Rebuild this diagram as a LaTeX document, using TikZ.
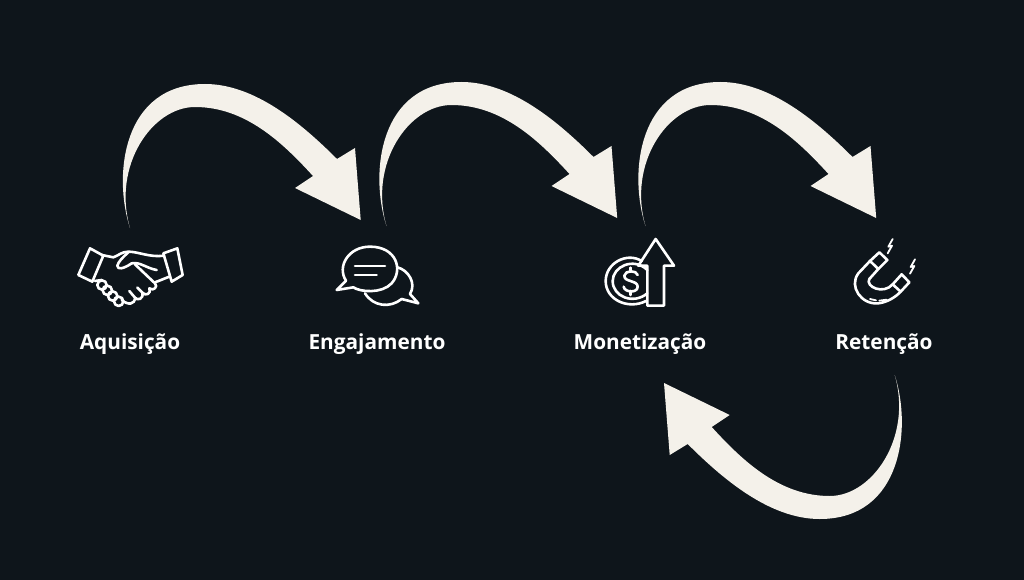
\documentclass[tikz,border=0pt]{standalone}
\usepackage{fontspec}
\setmainfont{Open Sans}
\definecolor{nightbg}{HTML}{0E151B}
\definecolor{cream}{HTML}{F4F1EA}
\tikzset{
	iconline/.style={draw=white, line width=2.6pt, line join=round, line cap=round},
	flowlabel/.style={text=white, font=\bfseries\fontsize{20.8}{24}\selectfont, anchor=base},
	flowarrow/.pic={
		\fill[cream] (130, 228) .. controls (113, 176) and (122, 84) .. (205, 84)
			.. controls (255, 84) and (302, 124) .. (337, 159)
			-- (355, 148) -- (360.7, 220) -- (295, 188) -- (313, 176)
			.. controls (282, 142) and (245, 107) .. (195, 107)
			.. controls (152, 107) and (112, 166) .. (130, 228) -- cycle;
	}
}

\begin{document}
\begin{tikzpicture}[x=1pt, y=-1pt]
	\fill[nightbg] (0, 0) rectangle (1024, 580);
	\useasboundingbox (0, 0) rectangle (1024, 580);

	\pic at (0, 0) {flowarrow};
	\pic at (256.5, -2) {flowarrow};
	\pic at (515.5, -2) {flowarrow};
	\pic[rotate=180] at (1024.7, 603) {flowarrow};

	\node[flowlabel] (aquisicao) at (130, 349) {Aquisição};
	\node[flowlabel] (engajamento) at (377, 349) {Engajamento};
	\node[flowlabel] (monetizacao) at (640, 349) {Monetização};
	\node[flowlabel] (retencao) at (884, 349) {Retenção};

	% aperto de maos
	\begin{scope}[shift={(60, 225)}, scale=1/3, iconline]
		\draw (90, 70) -- (130, 92) -- (97, 170) -- (55, 150) -- cycle;
		\draw (310, 85) -- (352, 70) -- (368, 150) -- (335, 170) -- cycle;
		\draw (125, 90) -- (160, 97) .. controls (175, 92) and (185, 80) .. (205, 80)
			.. controls (235, 80) and (270, 98) .. (312, 92);
		\draw (205, 82) .. controls (190, 95) and (175, 110) .. (172, 122)
			.. controls (172, 135) and (190, 132) .. (215, 115)
			.. controls (240, 110) and (260, 130) .. (290, 135);
		\draw (225, 118) -- (285, 175) .. controls (295, 185) and (280, 200) .. (268, 190);
		\draw (268, 190) .. controls (275, 205) and (258, 215) .. (247, 203) -- (232, 188);
		\draw (247, 203) .. controls (252, 222) and (232, 228) .. (225, 218) -- (208, 198);
		\draw (225, 218) .. controls (225, 238) and (205, 242) .. (185, 225);
		\draw (285, 172) -- (328, 155);
		\draw (105, 168) -- (125, 165);
		\draw (126, 180) circle (14);
		\draw (142, 196) circle (14);
		\draw (158, 213) circle (14);
		\draw (176, 229) circle (14);
	\end{scope}

	% baloes de conversa
	\begin{scope}[shift={(320, 230)}, scale=1/3, iconline]
		\draw (78, 152) -- (50, 180) -- (100, 172)
			.. controls (120, 186) and (185, 192) .. (215, 160)
			.. controls (250, 120) and (230, 50) .. (150, 50)
			.. controls (85, 50) and (50, 110) .. (78, 152) -- cycle;
		\draw (232, 112) .. controls (265, 120) and (290, 160) .. (270, 192)
			-- (295, 220) -- (245, 207)
			.. controls (210, 235) and (160, 230) .. (135, 190);
		\draw (105, 108) -- (195, 108);
		\draw (105, 135) -- (170, 135);
	\end{scope}

	% moeda e seta
	\begin{scope}[shift={(590, 225)}, scale=1/3, iconline]
		\draw (197, 42) -- (252, 122) -- (222, 122) -- (222, 242) -- (172, 242) -- (172, 122) -- (145, 122) -- cycle;
		\draw (155, 108) .. controls (110, 80) and (47, 115) .. (47, 168)
			.. controls (47, 225) and (115, 255) .. (168, 228);
		\draw (172, 135) .. controls (130, 95) and (68, 125) .. (68, 168)
			.. controls (68, 215) and (130, 240) .. (172, 205);
		\draw (143, 150) .. controls (140, 135) and (105, 135) .. (103, 152)
			.. controls (102, 172) and (143, 165) .. (143, 185)
			.. controls (143, 205) and (103, 203) .. (101, 185);
		\draw (122, 128) -- (122, 140);
		\draw (122, 198) -- (122, 210);
	\end{scope}

	% ima
	\begin{scope}[shift={(840, 225)}, scale=1/3, iconline]
		\draw (90, 108) -- (118, 82) -- (142, 105) -- (115, 132) -- cycle;
		\draw (158, 178) -- (185, 148) -- (208, 172) -- (182, 200) -- cycle;
		\draw (90, 108) -- (55, 145) .. controls (25, 185) and (65, 240) .. (115, 235)
			.. controls (140, 232) and (165, 218) .. (182, 200);
		\draw (115, 132) -- (88, 162) .. controls (75, 185) and (130, 210) .. (158, 178);
		\draw[line width=1.8pt] (90, 222) -- (108, 226);
		\draw[line width=1.8pt] (118, 227) -- (140, 224);
		\draw[line width=1.8pt] (158, 42) -- (145, 65) -- (156, 62) -- (143, 85);
		\draw[line width=1.8pt] (225, 103) -- (212, 126) -- (223, 123) -- (210, 146);
	\end{scope}
\end{tikzpicture}
\end{document}
